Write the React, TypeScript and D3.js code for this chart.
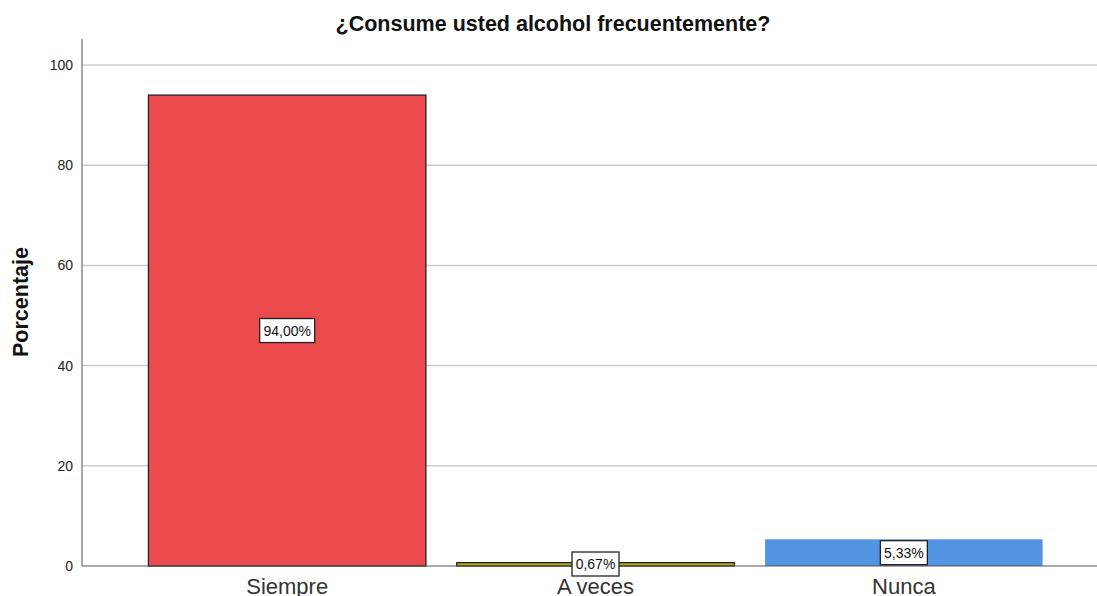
import React from "react";
import * as d3 from "d3";

const categories = ["Siempre", "A veces", "Nunca"];
const values = [94.0, 0.67, 5.33];
const valueLabels = ["94,00%", "0,67%", "5,33%"];
const colors = ["#EC4A4C", "#B5AE0C", "#5294E2"];
const strokes = ["#222", "#222", "none"];
const yTicks = [0, 20, 40, 60, 80, 100];

const W = 1097;
const H = 596;
const FONT = "'Liberation Sans', Arial, sans-serif";

export default function App() {
  const y = d3.scaleLinear().domain([0, 105.2]).range([566, 39]);
  const x = d3
    .scaleBand<string>()
    .domain(categories)
    .range([133, 1058])
    .paddingInner(0.1)
    .paddingOuter(0.05);
  const x0 = 82;
  const x1 = 1097;

  return (
    <svg
      width={W}
      height={H}
      style={{ position: "absolute", left: 0, top: 0, background: "#fff" }}
      fontFamily={FONT}
    >
      <rect x={0} y={0} width={W} height={H} fill="#fff" />
      <text x={553} y={31} textAnchor="middle" fontSize={21.5} fontWeight="bold" fill="#111">
        ¿Consume usted alcohol frecuentemente?
      </text>
      {yTicks.map((t) =>
        t > 0 ? (
          <line key={"g" + t} x1={x0} x2={x1} y1={y(t)} y2={y(t)} stroke="#cccccc" strokeWidth={1.5} />
        ) : null
      )}
      {yTicks.map((t) => (
        <text key={"t" + t} x={73} y={y(t) + 5} textAnchor="end" fontSize={14} fill="#222">
          {t}
        </text>
      ))}
      <text
        transform={`translate(28,${302}) rotate(-90)`}
        textAnchor="middle"
        fontSize={21.5}
        fontWeight="bold"
        fill="#111"
      >
        Porcentaje
      </text>
      {categories.map((c, i) => (
        <rect
          key={c}
          x={x(c)!}
          y={y(values[i])}
          width={x.bandwidth()}
          height={y(0) - y(values[i])}
          fill={colors[i]}
          stroke={strokes[i]}
          strokeWidth={1.3}
        />
      ))}
      <line x1={x0} x2={x0} y1={39} y2={566} stroke="#888" strokeWidth={1.5} />
      <line x1={x0} x2={x1} y1={566} y2={566} stroke="#555" strokeWidth={1.2} />
      {categories.map((c, i) => {
        const cx = x(c)! + x.bandwidth() / 2;
        let cy = (y(values[i]) + y(0)) / 2;
        if (i === 1) cy = 564;
        const w = valueLabels[i].length * 8 + 7;
        return (
          <g key={"l" + c}>
            <rect x={cx - w / 2} y={cy - 12} width={w} height={24} fill="#fff" stroke="#222" strokeWidth={1.3} />
            <text x={cx} y={cy + 5} textAnchor="middle" fontSize={14} fill="#111">
              {valueLabels[i]}
            </text>
          </g>
        );
      })}
      {categories.map((c) => (
        <text
          key={"c" + c}
          x={x(c)! + x.bandwidth() / 2}
          y={594}
          textAnchor="middle"
          fontSize={22}
          fill="#333"
        >
          {c}
        </text>
      ))}
    </svg>
  );
}
